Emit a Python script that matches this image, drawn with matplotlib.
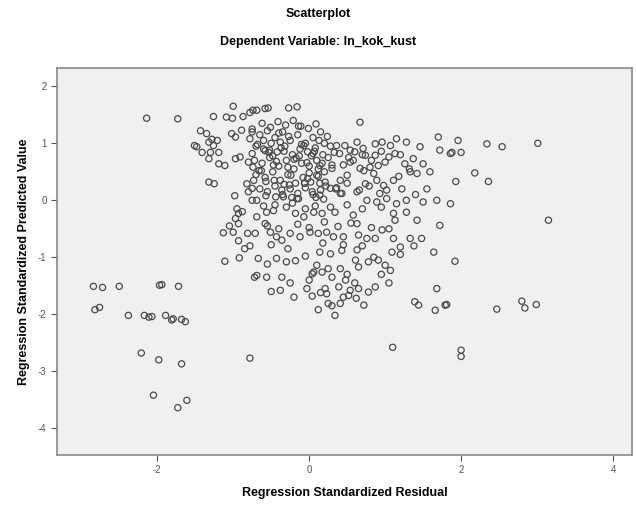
import numpy as np
import matplotlib.pyplot as plt

# Regression Standardized Residual (x) vs Regression Standardized Predicted Value (y)
resid = [
    # upper-left strand
    -2.14, -1.73, -1.26, -1.00, -1.09, -1.01, -0.87, -0.78, -0.74,
    -1.43, -1.35, -1.28, -1.21, -1.32, -1.26, -1.19, -1.30, -1.41, -1.51, -1.48,
    -1.02, -0.97, -0.89, -0.75,
    -1.32, -1.19, -1.11, -0.97, -0.91, -0.80, -0.75,
    -1.32, -1.25, -0.82, -0.73, -0.75,
    # top of main cloud
    -0.69, -0.58, -0.54, -0.27, -0.16, 0.67, 1.70, 1.72, 1.86,
    0.36, 0.47, 0.54, 0.63, 0.71, 0.74, 0.87, 0.96, 1.07, 1.15, 1.28, 1.46,
    0.87, 1.00, 1.13, 1.26, 1.37, 1.50, 1.59, 1.33, 1.42, 0.80, 0.91, 0.54,
    0.67, 0.50, 0.41, 0.30, 0.14, 0.10, 0.21, 0.28, 0.43, 0.63, 0.74, 0.89,
    0.98, 1.11, 1.02,
    # dense core
    -0.75, -0.65, -0.55, -0.45, -0.35, -0.25, -0.15, -0.05, 0.05, 0.15, 0.20, 0.28,
    -0.70, -0.60, -0.50, -0.42, -0.32, -0.22, -0.12, -0.02, 0.08, 0.18, 0.25,
    -0.72, -0.62, -0.52, -0.40, -0.30, -0.20, -0.10, 0.00, 0.10, 0.20, 0.30,
    -0.70, -0.58, -0.48, -0.38, -0.28, -0.18, -0.08, 0.02, 0.12, 0.22,
    -0.65, -0.55, -0.45, -0.35, -0.25, -0.15, -0.05, 0.05, 0.15,
    -0.60, -0.38, -0.10, 0.05, -0.47, -0.20, 0.00, -0.66, -0.33, -0.06,
    -0.52, -0.28, 0.12, -0.40, -0.14, -0.57, -0.23, 0.09, -0.44, -0.02,
    -0.78, -0.68, -0.58, -0.48, -0.37, -0.27, -0.17, -0.07, 0.03, 0.13,
    -0.74, -0.63, -0.53, -0.43, -0.33, -0.24, -0.13, -0.03, 0.07, 0.17,
    -0.62, -0.51, -0.41, -0.31, -0.21, -0.11, -0.01, 0.09, 0.24, 0.33,
    -0.57, -0.36, -0.16, 0.04, 0.19, -0.46, -0.26, -0.06, 0.14, 0.35,
    # right side of upper cloud
    1.96, 1.88, 2.00, 2.34, 2.54, 3.01, 2.18, 1.93, 2.36,
    0.40, 0.52, 0.60, 0.70, 0.82, 0.95, 1.05, 1.20, 0.45, 0.58, 0.72, 0.85,
    1.18, 1.32, 0.36, 0.50, 0.66, 0.79, 0.93, 1.22, 1.55, 1.40,
    # middle band
    -0.69, -0.34, -0.14, 0.14, 0.41, 0.76, 0.89, 1.02, 1.15, 1.28, 1.50, 1.68, 1.86,
    -0.69, -0.56, -0.47, -0.18, -0.07, 0.06, 0.17, 0.34, 0.58, 0.63, 1.11, 1.28,
    1.42, 1.72, 1.13,
    -0.71, -0.58, -0.51, -0.36, -0.43, -0.25, -0.12, 0.01, 0.12, 0.23, 0.32,
    0.45, 0.65, 0.76, 0.87, 1.11, 1.33, 1.48, 1.64,
    -0.60, -0.45, -0.30, -0.22, -0.05, 0.08, 0.28, 0.50, 0.70, 0.95,
    -0.55, -0.40, -0.15, 0.00, 0.20, 0.38, 0.55, 0.82, 0.96, 1.05,
    -0.78, -0.50, -0.28, 0.18, 0.45, 0.70, 1.20, 1.38,
    0.14, 0.28, 0.43, 0.63, 1.09, -0.18, 0.10, 0.25, 0.41, 0.61, 0.65, 0.78,
    0.91, 1.00, 1.07, -0.67, -0.43, 0.04, 0.17,
    -0.55, -0.30, -0.05, 0.30, 0.50, 0.85, 1.20, -0.25, 0.00, 0.48,
    -0.69, -0.56, -0.36, 0.06, 0.21, 0.39, 0.54, 0.65, 0.87, -0.38, -0.03,
    0.23, 0.04, 0.25, 0.41, 0.52, 0.72, 0.78, 0.34, 1.39, 1.44, 1.68, 1.66, 1.79,
    -0.20, 0.15, 0.45, 0.60, 0.95, -0.50, 0.12, 0.62, 0.30, 1.05,
    # left edge of main cloud
    -0.80, -0.75, -0.95, -0.93, -0.97, -0.93, -1.13, -1.00, -0.81, -0.93,
    -1.11, -0.92, -0.72, -0.88, -1.05, -0.85, -0.98,
    # lower-left group
    -2.84, -2.72, -2.50, -1.97, -1.94, -1.72,
    -2.82, -2.76, -2.38, -2.17, -2.07, -1.89, -1.79, -1.68,
    -2.11, -1.81, -1.63,
    -2.21, -1.98, -1.68, -0.78,
    -2.05, -1.61, -1.73,
    # scattered outliers
    1.10, 2.00, 2.00,
    3.15, 1.92, 1.81, 2.47, 2.80, 2.84, 2.99,
]

pred = [
    1.44, 1.43, 1.47, 1.65, 1.46, 1.44, 1.47, 1.54, 1.58,
    1.22, 1.17, 1.07, 1.05, 1.02, 0.96, 0.84, 0.84, 0.84, 0.96, 0.94,
    1.17, 1.11, 1.23, 1.20,
    0.73, 0.64, 0.61, 0.73, 0.76, 0.67, 0.82,
    0.32, 0.29, 0.29, 0.35, 0.21,
    1.58, 1.61, 1.62, 1.62, 1.64, 1.37, 1.11, 0.88, 0.82,
    0.96, 0.96, 0.88, 1.02, 0.91, 0.79, 0.99, 1.02, 0.96, 1.08, 1.02, 0.94,
    0.79, 0.67, 0.82, 0.64, 0.73, 0.64, 0.50, 0.50, 0.47, 0.58, 0.61, 0.67,
    0.56, 0.44, 0.35, 0.56, 0.61, 0.44, 0.32, 0.21, 0.12, 0.15, 0.29, 0.35,
    0.26, 0.35, 0.18,
    1.25, 1.15, 1.22, 1.10, 1.20, 1.05, 1.15, 1.00, 1.10, 1.20, 1.00, 0.95,
    0.95, 0.90, 1.00, 0.85, 0.95, 0.80, 0.90, 0.85, 0.92, 0.80, 0.75,
    0.70, 0.65, 0.75, 0.60, 0.70, 0.55, 0.65, 0.60, 0.70, 0.50, 0.62,
    0.45, 0.40, 0.50, 0.35, 0.45, 0.30, 0.40, 0.32, 0.42, 0.25,
    0.20, 0.15, 0.25, 0.10, 0.20, 0.12, 0.22, 0.10, 0.18,
    1.05, 1.02, 0.98, 0.82, 0.62, 0.72, 0.48, 0.52, 0.28, 0.30,
    0.88, 0.58, 0.55, 1.18, 1.30, 0.33, 0.05, 0.05, 0.06, 0.38,
    1.08, 0.98, 0.87, 0.78, 0.92, 1.12, 0.74, 0.96, 0.78, 1.05,
    0.58, 0.52, 0.84, 0.68, 0.86, 0.44, 0.78, 0.66, 0.86, 0.65,
    1.35, 1.28, 1.38, 1.32, 1.40, 1.30, 1.26, 1.34, 1.12, 0.84,
    0.08, 0.18, 0.03, 0.15, 0.02, 0.35, 0.27, 0.30, 0.30, 0.20,
    1.05, 0.84, 0.84, 0.99, 0.94, 1.00, 0.48, 0.33, 0.33,
    0.82, 0.75, 0.85, 0.80, 0.70, 0.86, 0.76, 0.80, 0.62, 0.70, 0.52, 0.47,
    0.42, 0.55, 0.22, 0.30, 0.18, 0.25, 0.12, 0.20, 0.20, 0.10,
    0.00, 0.06, 0.03, 0.09, 0.12, 0.00, -0.03, 0.03, -0.06, 0.00, -0.03, 0.00, -0.06,
    -0.29, -0.21, -0.18, -0.23, -0.29, -0.21, -0.23, -0.21, -0.26, -0.41, -0.23, -0.21,
    -0.35, -0.44, -0.35,
    -0.58, -0.41, -0.56, -0.70, -0.64, -0.58, -0.64, -0.56, -0.58, -0.56, -0.64,
    -0.64, -0.61, -0.67, -0.67, -0.67, -0.67, -0.67, -0.91,
    -0.10, -0.08, -0.12, -0.05, -0.15, -0.10, -0.12, -0.08, -0.15, -0.12,
    -0.45, -0.50, -0.42, -0.48, -0.38, -0.46, -0.40, -0.48, -0.52, -0.50,
    -0.80, -0.78, -0.85, -0.75, -0.78, -0.80, -0.82, -0.80,
    -0.91, -0.94, -0.88, -0.87, -0.91, -1.06, -1.14, -1.20, -1.20, -1.05, -1.17, -1.08,
    -1.05, -1.14, -1.23, -1.02, -1.02, -1.29, -1.26,
    -1.12, -1.08, -0.98, -1.35, -1.30, -1.00, -0.95, -1.45, -1.40, -1.40,
    -1.32, -1.35, -1.35, -1.26, -1.55, -1.52, -1.58, -1.55, -1.52, -1.58, -1.55,
    -1.64, -1.68, -1.81, -1.81, -1.67, -1.84, -1.61, -2.02, -1.78, -1.84, -1.55, -1.93, -1.84,
    -1.70, -1.62, -1.70, -1.45, -1.30, -1.60, -1.92, -1.72, -1.85, -1.45,
    0.15, 0.00, -0.15, -0.23, -0.32, -0.41, -0.57, -0.56, -0.58, -0.71,
    -1.07, -1.01, -1.35, -0.20, -0.45, -0.85, 0.08,
    -1.51, -1.53, -1.51, -1.49, -1.48, -1.51,
    -1.92, -1.88, -2.02, -2.02, -2.04, -2.02, -2.08, -2.09,
    -2.05, -2.10, -2.13,
    -2.68, -2.80, -2.87, -2.77,
    -3.42, -3.51, -3.64,
    -2.58, -2.63, -2.74,
    -0.35, -1.07, -1.83, -1.91, -1.77, -1.89, -1.83,
]

x_ticks = [-2, 0, 2, 4]
y_ticks = [-4, -3, -2, -1, 0, 1, 2]

plt.rcParams['font.family'] = ['Liberation Sans', 'DejaVu Sans']
plt.rcParams['axes.unicode_minus'] = False

fig = plt.figure(figsize=(6.36, 5.08), dpi=100)
ax = fig.add_axes([0.0896, 0.1043, 0.9041, 0.7617])
ax.set_facecolor('#f0f0f0')

ax.scatter(resid, pred, s=20, facecolors='none', edgecolors='#4a4a4a',
           linewidths=0.9)

ax.set_xlim(-3.32, 4.25)
ax.set_ylim(-4.47, 2.32)
ax.set_xticks(x_ticks)
ax.set_yticks(y_ticks)
ax.tick_params(labelsize=7, colors='#555555', length=4, width=0.8)
for s in ax.spines.values():
    s.set_color('#8a8a8a')
    s.set_linewidth(1.2)

ax.set_xlabel('Regression Standardized Residual', fontsize=9, fontweight='bold',
              labelpad=8)
ax.set_ylabel('Regression Standardized Predicted Value', fontsize=9,
              fontweight='bold', labelpad=6)
fig.text(0.5, 0.972, 'Scatterplot', ha='center', va='center', fontsize=9,
         fontweight='bold')
fig.text(0.5, 0.918, 'Dependent Variable: ln_kok_kust', ha='center',
         va='center', fontsize=9, fontweight='bold')

plt.savefig('out.png', dpi=100)
